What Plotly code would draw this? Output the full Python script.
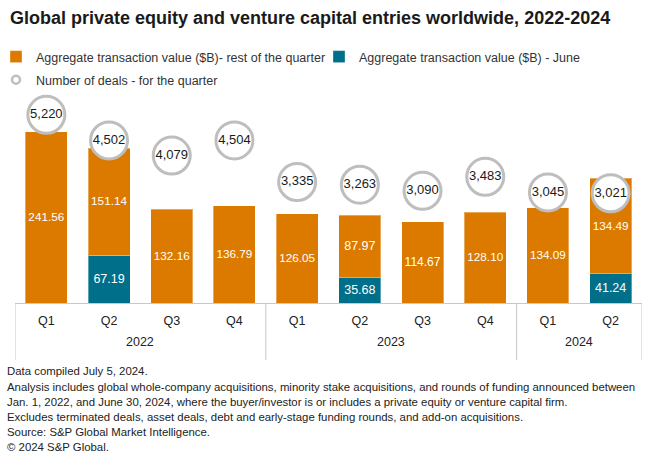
import plotly.graph_objects as go

years = ["2022", "2022", "2022", "2022", "2023", "2023", "2023", "2023", "2024", "2024"]
quarters = ["Q1", "Q2", "Q3", "Q4", "Q1", "Q2", "Q3", "Q4", "Q1", "Q2"]
june_value = [None, 67.19, None, None, None, 35.68, None, None, None, 41.24]
rest_value = [241.56, 151.14, 132.16, 136.79, 126.05, 87.97, 114.67, 128.10, 134.09, 134.49]
deals = [5220, 4502, 4079, 4504, 3335, 3263, 3090, 3483, 3045, 3021]

ORANGE = "#DC7A00"
TEAL = "#006F8A"
GRAY = "#BEBEBE"
AXIS = "#C8C8C8"
FONT = "Liberation Sans"

W, H = 660, 463
ML, MR, MT, MB = 15, 18, 100, 160
PW, PH = W - ML - MR, H - MT - MB


def px(xp):
    return (xp - ML) / PW


def py(yp):
    return (H - MB - yp) / PH


x = [f"{q} {y}" for q, y in zip(quarters, years)]

fig = go.Figure()
fig.add_trace(go.Bar(
    x=x, y=june_value, name="Aggregate transaction value ($B) - June",
    marker=dict(color=TEAL, line=dict(width=1, color="rgba(255,255,255,0.35)")),
    text=[f"{v:.2f}" if v is not None else "" for v in june_value],
    textposition="inside", insidetextanchor="middle", textangle=0,
    textfont=dict(color="white", size=12.5, family=FONT),
    legend="legend3", hoverinfo="skip",
))
fig.add_trace(go.Bar(
    x=x, y=rest_value, name="Aggregate transaction value ($B)- rest of the quarter",
    marker=dict(color=ORANGE, line=dict(width=1, color="rgba(255,255,255,0.35)")),
    text=[f"{v:.2f}" for v in rest_value],
    textposition="inside", insidetextanchor="middle", textangle=0,
    textfont=dict(color="white", size=12.5, family=FONT),
    legend="legend", hoverinfo="skip",
))
fig.add_trace(go.Scatter(
    x=x, y=deals, yaxis="y2", mode="markers+text",
    marker=dict(size=37, color="white", line=dict(color=GRAY, width=3)),
    text=[f"{v:,}" for v in deals], textposition="middle center",
    textfont=dict(color="#1a1a1a", size=13, family=FONT),
    showlegend=False, cliponaxis=False, hoverinfo="skip",
))
fig.add_trace(go.Scatter(
    x=[x[0]], y=[None], yaxis="y2", mode="markers",
    name="Number of deals - for the quarter",
    marker=dict(size=8, color="white", line=dict(color=GRAY, width=2.5)),
    legend="legend2",
))

legend_common = dict(
    orientation="h", xref="paper", yref="paper", xanchor="left", yanchor="middle",
    font=dict(size=12.5, color="#333333", family=FONT),
    itemwidth=30, bgcolor="rgba(0,0,0,0)", borderwidth=0,
)

fig.update_layout(
    width=W, height=H,
    paper_bgcolor="white", plot_bgcolor="white",
    font=dict(family=FONT, color="#222222", size=12),
    margin=dict(l=ML, r=MR, t=MT, b=MB, autoexpand=False),
    barmode="stack", bargap=0.33,
    title=dict(
        text="Global private equity and venture capital entries worldwide, 2022-2024",
        x=10 / W, xanchor="left", xref="container",
        y=1 - 18 / H, yanchor="middle", yref="container",
        font=dict(size=18, color="#1a1a1a", family=FONT, weight="bold"),
    ),
    xaxis=dict(
        type="category", range=[-0.5, len(x) - 0.5], autorange=False,
        tickmode="array", tickvals=x, ticktext=quarters,
        showline=True, linecolor=AXIS, linewidth=1,
        tickfont=dict(size=12.5, color="#222222", family=FONT),
        showgrid=False, ticks="", ticklabelstandoff=6,
    ),
    yaxis=dict(range=[0, 286], visible=False, showgrid=False),
    yaxis2=dict(range=[-55, 5636], overlaying="y", visible=False, showgrid=False),
    legend=dict(legend_common, x=px(-4), y=py(57)),
    legend3=dict(legend_common, x=px(319), y=py(57)),
    legend2=dict(legend_common, x=px(-4), y=py(80)),
)

# year group labels and dividers, derived from the year list
groups = []
for i, yv in enumerate(years):
    if not groups or groups[-1][0] != yv:
        groups.append([yv, i, i])
    else:
        groups[-1][2] = i
bounds = [groups[0][1] - 0.5] + [g[2] + 0.5 for g in groups]
for yv, i0, i1 in groups:
    fig.add_annotation(
        text=yv, xref="x", yref="paper", x=(i0 + i1) / 2, y=py(342),
        yanchor="middle", showarrow=False,
        font=dict(size=12.5, color="#222222", family=FONT),
    )
for b in bounds:
    fig.add_shape(
        type="line", xref="x", yref="paper", x0=b, x1=b, y0=py(303), y1=py(360),
        line=dict(color=AXIS, width=1),
    )

notes = [
    ("Data compiled July 5, 2024.", 371),
    ("Analysis includes global whole-company acquisitions, minority stake acquisitions, and rounds of funding announced between", 386.5),
    ("Jan. 1, 2022, and June 30, 2024, where the buyer/investor is or includes a private equity or venture capital firm.", 401.5),
    ("Excludes terminated deals, asset deals, debt and early-stage funding rounds, and add-on acquisitions.", 416.5),
    ("Source: S&P Global Market Intelligence.", 431.5),
    ("© 2024 S&P Global.", 446.5),
]
for txt, yy in notes:
    fig.add_annotation(
        text=txt, xref="paper", yref="paper",
        x=px(5), xanchor="left",
        y=py(yy), yanchor="middle",
        showarrow=False, font=dict(size=11.4, color="#222222", family=FONT),
    )

fig.write_html(
    "out.html",
    config={"displayModeBar": False},
    post_script="document.body.style.margin='0';",
)
